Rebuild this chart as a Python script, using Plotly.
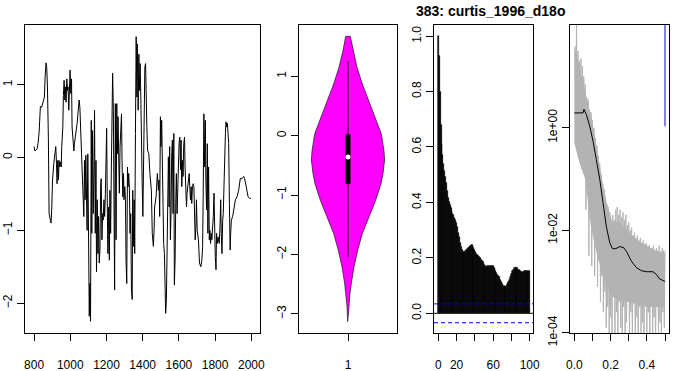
import plotly.graph_objects as go

# ---------------- data ----------------
ts_year = [800, 805, 817, 822, 828, 831, 835, 842, 850, 857, 861, 866, 870, 874, 879, 883, 890, 894, 898, 902,
           909, 914, 920, 924, 927, 931, 935, 938, 942, 946, 950, 953, 959, 962, 966, 970, 974, 977, 981, 985,
           988, 992, 996, 999, 1003, 1007, 1010, 1016, 1020, 1023, 1031, 1038, 1044, 1049, 1053, 1057, 1062, 1068, 1071, 1075,
           1079, 1082, 1086, 1090, 1093, 1097, 1101, 1105, 1108, 1112, 1116, 1119, 1123, 1127, 1131, 1134, 1138, 1142, 1145, 1149,
           1153, 1156, 1160, 1164, 1168, 1171, 1175, 1179, 1182, 1186, 1190, 1194, 1197, 1201, 1205, 1208, 1212, 1216, 1219, 1223,
           1227, 1231, 1234, 1238, 1242, 1245, 1249, 1253, 1257, 1260, 1264, 1268, 1271, 1275, 1279, 1283, 1286, 1290, 1294, 1297,
           1301, 1305, 1308, 1312, 1316, 1319, 1323, 1327, 1330, 1334, 1338, 1342, 1345, 1349, 1353, 1356, 1360, 1364, 1368, 1371,
           1375, 1379, 1382, 1386, 1390, 1393, 1397, 1401, 1405, 1408, 1412, 1416, 1419, 1423, 1427, 1434, 1440, 1448, 1453, 1459,
           1463, 1466, 1474, 1481, 1487, 1490, 1494, 1498, 1501, 1505, 1509, 1512, 1516, 1520, 1523, 1527, 1531, 1535, 1538, 1542,
           1546, 1549, 1553, 1557, 1560, 1564, 1568, 1572, 1575, 1579, 1583, 1586, 1590, 1594, 1597, 1601, 1605, 1609, 1612, 1616,
           1620, 1623, 1627, 1631, 1634, 1638, 1642, 1645, 1653, 1657, 1660, 1664, 1668, 1671, 1675, 1679, 1683, 1686, 1690, 1694,
           1697, 1701, 1708, 1714, 1721, 1727, 1731, 1734, 1738, 1742, 1746, 1749, 1753, 1757, 1760, 1764, 1768, 1771, 1775, 1779,
           1782, 1786, 1790, 1794, 1797, 1801, 1805, 1808, 1812, 1816, 1819, 1823, 1827, 1831, 1834, 1838, 1842, 1845, 1849, 1853,
           1857, 1860, 1864, 1868, 1872, 1875, 1879, 1883, 1886, 1890, 1897, 1902, 1912, 1921, 1930, 1939, 1949, 1958, 1963, 1972,
           1982, 1991, 1998]
ts_value = [0.15, 0.09, 0.12, 0.19, 0.35, 0.63, 0.70, 0.69, 0.79, 0.83, 1.10, 1.30, 1.24, 0.97, 0.28, -0.77, -0.86, -0.90, -0.68, -0.31,
            -0.08, 0.08, 0.15, -0.08, -0.36, -0.04, -0.31, -0.04, -0.13, -0.06, -0.13, 0.15, 0.42, 0.85, 1.06, 0.79, 0.97, 0.76, 1.08, 0.92,
            0.97, 0.65, 1.04, 1.20, 0.88, 1.08, 0.42, 0.15, 0.09, 0.19, 0.33, 0.47, 0.65, 0.79, 0.69, 0.42, 0.05, -0.26, -0.72, -0.81,
            -0.04, -0.58, 0.03, -0.86, -1.00, 0.05, -1.41, -2.18, -1.73, -2.25, 0.51, -1.04, 0.37, -0.77, -0.17, 0.65, -1.04, -0.04, -1.57, -0.58,
            -1.32, -0.81, -1.45, -1.27, -0.36, -0.29, -1.13, -0.77, -0.86, -0.58, -0.81, -0.49, -0.04, 0.40, -0.77, -1.32, -0.68, -1.41, -0.45, -1.04,
            -0.13, 0.97, 1.16, 0.65, -0.86, -1.82, 0.74, -1.13, 0.74, 0.05, 0.56, -0.13, -0.49, 0.15, 0.42, 0.60, -0.04, -0.54, -0.22, -0.58,
            -0.40, -0.58, -1.41, -1.73, -0.13, -0.40, -0.22, -0.45, -1.04, -0.77, -1.82, -1.95, -0.45, -1.22, -0.58, -1.32, 0.33, 1.66, 0.83, 1.56,
            0.65, 1.42, 0.92, 1.29, 0.79, 0.05, -0.31, -0.81, 0.01, 1.10, 1.24, 1.29, 0.65, 0.42, 0.10, 0.05, -0.22, -0.45, -1.04, -1.22,
            -1.00, -0.68, -0.54, -0.22, -0.45, -0.31, -0.81, 0.56, 0.15, 0.51, -0.13, -0.77, -1.18, -1.32, -1.98, -2.14, -1.95, -1.27, -1.04, 0.01,
            -0.68, 0.15, -1.13, -0.72, 0.01, 0.24, -0.77, 0.33, -1.75, -1.41, -0.58, -0.22, -0.77, -0.31, -0.04, 0.19, 0.28, -0.17, 0.24, -0.40,
            -0.04, -0.26, 0.19, 0.28, -0.13, -0.63, -0.68, -0.49, -0.31, -0.22, -0.40, -0.58, -0.40, -0.63, -0.40, -0.36, -0.40, -0.86, -1.13, -0.95,
            -0.58, -1.00, -1.13, -1.45, -1.50, -1.41, -1.22, -0.58, 0.60, -0.13, 0.51, -0.31, -0.72, 0.19, -1.04, -0.13, -1.13, -1.00, -1.18, -1.04,
            -1.13, -1.00, -0.81, -0.49, -1.04, -1.36, -1.54, -1.04, -1.18, -1.09, -1.13, -1.18, -0.95, -0.58, -1.04, -1.32, -0.86, -0.77, -0.40, 0.24,
            0.33, 0.49, 0.42, 0.47, 0.28, 0.19, -0.63, -1.27, -1.04, -0.86, -0.81, -0.72, -0.58, -0.54, -0.45, -0.29, -0.29, -0.26, -0.29, -0.40,
            -0.54, -0.56, -0.56]

ts_xticks = [800, 1000, 1200, 1400, 1600, 1800, 2000]
ts_yticks = [-2, -1, 0, 1]

# violin profile (value, half-width) and box statistics
vio_y = [1.67, 1.60, 1.43, 1.15, 0.87, 0.59, 0.31, 0.03, -0.25, -0.41, -0.64, -0.81, -1.09, -1.37, -1.65, -1.93,
         -2.21, -2.49, -2.66, -2.88, -3.13]
vio_hw = [0.024, 0.034, 0.051, 0.092, 0.146, 0.211, 0.279, 0.340, 0.367, 0.374, 0.357, 0.337, 0.282, 0.211, 0.146, 0.099,
          0.061, 0.034, 0.020, 0.010, 0.003]
vio_whisk = [-2.04, 1.25]
vio_box = [-0.81, 0.02]
vio_median = -0.36
vio_yticks = [-3, -2, -1, 0, 1]

# autocorrelation, lags 0..100
acf_vals = [1.0, 0.93, 0.80, 0.68, 0.61, 0.57, 0.54, 0.515, 0.49, 0.47,
            0.44, 0.415, 0.40, 0.39, 0.38, 0.37, 0.36, 0.355, 0.345, 0.335,
            0.325, 0.31, 0.29, 0.275, 0.255, 0.238, 0.228, 0.222, 0.22, 0.221,
            0.224, 0.228, 0.232, 0.236, 0.24, 0.244, 0.246, 0.245, 0.242, 0.236,
            0.228, 0.22, 0.215, 0.21, 0.207, 0.204, 0.198, 0.192, 0.188, 0.184,
            0.178, 0.174, 0.17, 0.168, 0.17, 0.171, 0.172, 0.172, 0.172, 0.171,
            0.17, 0.165, 0.16, 0.153, 0.146, 0.14, 0.135, 0.13, 0.122, 0.112,
            0.105, 0.10, 0.097, 0.096, 0.096, 0.098, 0.104, 0.112, 0.12, 0.132,
            0.143, 0.152, 0.158, 0.162, 0.165, 0.166, 0.165, 0.162, 0.158, 0.155,
            0.152, 0.15, 0.15, 0.15, 0.151, 0.152, 0.152, 0.152, 0.152, 0.152, 0.152]
acf_ci = 0.034
acf_xticks = [0, 20, 40, 60, 80, 100]
acf_xlabels = ["0", "20", "", "60", "", "100"]
acf_yticks = [0.0, 0.2, 0.4, 0.6, 0.8, 1.0]

# spectrum: raw periodogram (log10) at freq 0.004..0.5
spec_freq = [round(0.004 * k, 3) for k in range(1, 126)]
spec_log = [1.6, 0.2, 2.1, -0.3, 1.5, -0.6, 1.3, 0.1, 1.35, -0.8,
            1.2, -0.4, 1.0, -0.9, 0.85, -1.6, 0.6, -0.6, 0.55, -2.5,
            0.35, -1.3, 0.3, -2.7, 0.15, -1.8, 0.0, -2.9, -0.2, -2.2,
            -0.35, -3.1, -0.55, -2.6, -0.7, -3.4, -0.9, -2.9, -1.1, -3.6,
            -1.2, -3.2, -1.35, -3.9, -1.5, -3.5, -1.55, -4.2, -1.65, -3.7,
            -1.9, -4.3, -1.7, -3.3, -1.8, -4.1, -1.6, -3.6, -1.55, -4.4,
            -1.7, -3.4, -1.6, -3.9, -1.75, -4.2, -1.65, -3.5, -1.8, -4.5,
            -1.7, -3.8, -1.9, -3.3, -1.85, -4.2, -2.0, -3.6, -1.95, -4.4,
            -2.1, -3.4, -2.05, -4.0, -2.15, -3.7, -2.1, -4.3, -2.2, -3.5,
            -2.15, -4.1, -2.25, -3.8, -2.2, -4.5, -2.3, -3.3, -2.25, -4.0,
            -2.35, -3.6, -2.3, -4.3, -2.4, -3.4, -2.35, -4.1, -2.3, -3.7,
            -2.4, -4.4, -2.35, -3.5, -2.4, -4.0, -2.3, -3.8, -2.45, -4.2,
            -2.35, -3.6, -2.4, -3.9, -2.4]
# dense core of the periodogram (log10 limits of the solid grey band)
band_freq = [0.0, 0.03, 0.06, 0.09, 0.12, 0.15, 0.18, 0.21, 0.25, 0.3, 0.35, 0.4, 0.45, 0.5]
band_hi = [1.6, 1.15, 0.7, 0.25, -0.3, -0.95, -1.5, -1.85, -1.85, -2.05, -2.2, -2.3, -2.4, -2.45]
band_lo = [-0.3, -0.7, -1.0, -1.9, -2.4, -2.8, -3.1, -3.3, -3.35, -3.4, -3.45, -3.5, -3.5, -3.5]
# smoothed spectrum
smooth_freq = [0.0, 0.048, 0.053, 0.066, 0.085, 0.103, 0.121, 0.14, 0.158, 0.176, 0.195, 0.21, 0.228, 0.25,
               0.272, 0.29, 0.314, 0.342, 0.37, 0.397, 0.434, 0.452, 0.47, 0.5]
smooth_log = [0.29, 0.29, 0.36, 0.26, 0.03, -0.26, -0.62, -1.0, -1.46, -1.92, -2.24, -2.36, -2.36, -2.32,
              -2.34, -2.43, -2.60, -2.73, -2.79, -2.81, -2.81, -2.86, -2.95, -3.0]
ref_freq = 0.5
ref_range = [1.07, 1000.0]
spec_xticks = [0.0, 0.1, 0.2, 0.3, 0.4, 0.5]
spec_xlabels = ["0.0", "", "0.2", "", "0.4", ""]
spec_yticks = [1.0, 0.01, 0.0001]
spec_ylabels = ["1e+00", "1e-02", "1e-04"]

title_text = "383: curtis_1996_d18o"

# ---------------- figure ----------------
W, H = 681, 371
FONT = "Liberation Sans, Arial, sans-serif"
GREY = "#B3B3B3"
fig = go.Figure()

fig.add_trace(go.Scatter(x=ts_year, y=ts_value, mode="lines",
                         line=dict(color="black", width=1), xaxis="x", yaxis="y"))

# violin polygon
vx = [1 + h for h in vio_hw] + [1 - h for h in reversed(vio_hw)] + [1 + vio_hw[0]]
vy = list(vio_y) + list(reversed(vio_y)) + [vio_y[0]]
fig.add_trace(go.Scatter(x=vx, y=vy, mode="lines", fill="toself", fillcolor="#FF00FF",
                         line=dict(color="black", width=0.6), xaxis="x2", yaxis="y2"))
fig.add_trace(go.Scatter(x=[1, 1], y=vio_whisk, mode="lines", line=dict(color="black", width=1),
                         xaxis="x2", yaxis="y2"))
fig.add_trace(go.Scatter(x=[1, 1], y=vio_box, mode="lines", line=dict(color="black", width=5),
                         xaxis="x2", yaxis="y2"))
fig.add_trace(go.Scatter(x=[1], y=[vio_median], mode="markers",
                         marker=dict(color="white", size=5, line=dict(width=0)), xaxis="x2", yaxis="y2"))

# ACF
fig.add_trace(go.Bar(x=list(range(len(acf_vals))), y=acf_vals, width=1.0,
                     marker=dict(color="black", line=dict(color="black", width=0.6)),
                     xaxis="x3", yaxis="y3"))
acf_xr = [-4.7, 103.6]
fig.add_trace(go.Scatter(x=acf_xr, y=[0, 0], mode="lines", line=dict(color="black", width=1),
                         xaxis="x3", yaxis="y3"))
for s in (acf_ci, -acf_ci):
    fig.add_trace(go.Scatter(x=acf_xr, y=[s, s], mode="lines",
                             line=dict(color="#0000FF", width=1, dash="4px,3px"),
                             xaxis="x3", yaxis="y3"))

# spectrum
fig.add_trace(go.Scatter(x=band_freq, y=[10 ** v for v in band_lo], mode="lines",
                         line=dict(color=GREY, width=0), xaxis="x4", yaxis="y4"))
fig.add_trace(go.Scatter(x=band_freq, y=[10 ** v for v in band_hi], mode="lines", fill="tonexty",
                         fillcolor=GREY, line=dict(color=GREY, width=0), xaxis="x4", yaxis="y4"))
fig.add_trace(go.Scatter(x=spec_freq, y=[10 ** v for v in spec_log], mode="lines",
                         line=dict(color=GREY, width=1), xaxis="x4", yaxis="y4"))
fig.add_trace(go.Scatter(x=smooth_freq, y=[10 ** v for v in smooth_log], mode="lines",
                         line=dict(color="black", width=1), xaxis="x4", yaxis="y4"))
fig.add_trace(go.Scatter(x=[ref_freq, ref_freq], y=ref_range, mode="lines",
                         line=dict(color="#0000FF", width=1), xaxis="x4", yaxis="y4"))

ydom = [1 - 333 / H, 1 - 25 / H]
common = dict(showline=True, mirror=True, linecolor="black", linewidth=1, ticks="outside",
              ticklen=7, tickcolor="black", tickwidth=1, showgrid=False, zeroline=False,
              automargin=False,
              tickfont=dict(family=FONT, size=12, color="black"), ticklabelstandoff=14)
ycommon = dict(common, tickangle=-90, ticklabelstandoff=0)

def xd(a, b):
    return [a / W, b / W]

fig.update_layout(
    width=W, height=H, margin=dict(l=0, r=0, t=0, b=0, autoexpand=False),
    paper_bgcolor="white", plot_bgcolor="white", showlegend=False, bargap=0,
    xaxis=dict(common, domain=xd(25, 260), range=[750, 2048], tickvals=ts_xticks, anchor="y"),
    yaxis=dict(ycommon, domain=ydom, range=[-2.41, 1.82], tickvals=ts_yticks, anchor="x"),
    xaxis2=dict(common, domain=xd(299, 397), range=[0.5, 1.5], tickvals=[1], anchor="y2"),
    yaxis2=dict(ycommon, domain=ydom, range=[-3.32, 1.86], tickvals=vio_yticks, anchor="x2"),
    xaxis3=dict(common, domain=xd(434, 533), range=acf_xr, tickvals=acf_xticks,
                ticktext=acf_xlabels, anchor="y3"),
    yaxis3=dict(ycommon, domain=ydom, range=[-0.071, 1.04], tickvals=acf_yticks,
                ticktext=["0.0", "0.2", "0.4", "0.6", "0.8", "1.0"], anchor="x3"),
    xaxis4=dict(common, domain=xd(570, 669), range=[-0.024, 0.522], tickvals=spec_xticks,
                ticktext=spec_xlabels, anchor="y4"),
    yaxis4=dict(ycommon, domain=ydom, type="log", range=[-4.006, 2.006], tickvals=spec_yticks,
                ticktext=spec_ylabels, anchor="x4"),
    annotations=[dict(text="<b>" + title_text + "</b>", x=490 / W, y=1 - 11 / H, xref="paper",
                      yref="paper", showarrow=False, xanchor="center", yanchor="middle",
                      font=dict(family=FONT, size=14, color="black"))],
)

fig.write_html("out.html", config={"displayModeBar": False},
               post_script="document.body.style.margin='0px';")
